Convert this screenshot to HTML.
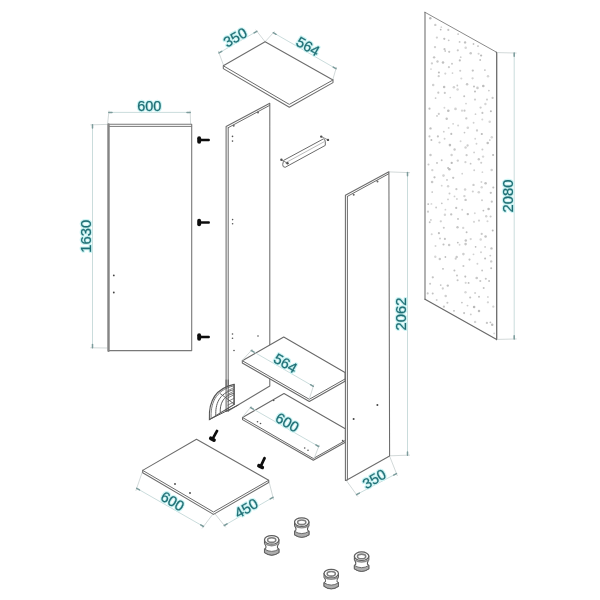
<!DOCTYPE html>
<html><head><meta charset="utf-8"><style>
html,body{margin:0;padding:0;background:#fff;}
svg{display:block;font-family:"Liberation Sans",sans-serif;}
</style></head><body>
<svg width="600" height="600" viewBox="0 0 600 600">
<defs><filter id="bl" x="-5%" y="-5%" width="110%" height="110%"><feGaussianBlur stdDeviation="0.6"/></filter><filter id="gb" x="0" y="0" width="600" height="600" filterUnits="userSpaceOnUse"><feGaussianBlur stdDeviation="0.35"/></filter><filter id="tb" x="-20%" y="-20%" width="140%" height="140%"><feGaussianBlur stdDeviation="0.3"/></filter></defs>
<rect width="600" height="600" fill="#fff"/>
<g filter="url(#gb)">
<polygon points="425.00,12.30 496.70,52.30 496.70,339.60 425.00,299.20" fill="#ffffff" stroke="none" stroke-width="0" stroke-linejoin="round" />
<g filter="url(#bl)">
<circle cx="430.3" cy="18.2" r="1.22" fill="rgb(185,185,185)"/>
<circle cx="435.3" cy="24.9" r="1.19" fill="rgb(203,203,203)"/>
<circle cx="441.3" cy="27.2" r="0.86" fill="rgb(215,215,215)"/>
<circle cx="440.7" cy="29.6" r="0.88" fill="rgb(185,185,185)"/>
<circle cx="448.3" cy="29.9" r="1.08" fill="rgb(199,199,199)"/>
<circle cx="458.1" cy="34.1" r="0.90" fill="rgb(197,197,197)"/>
<circle cx="436.9" cy="37.6" r="1.12" fill="rgb(209,209,209)"/>
<circle cx="444.3" cy="38.8" r="1.11" fill="rgb(191,191,191)"/>
<circle cx="448.7" cy="40.3" r="0.91" fill="rgb(199,199,199)"/>
<circle cx="459.6" cy="41.9" r="0.93" fill="rgb(197,197,197)"/>
<circle cx="465.1" cy="42.4" r="1.18" fill="rgb(192,192,192)"/>
<circle cx="435.0" cy="47.1" r="1.17" fill="rgb(208,208,208)"/>
<circle cx="444.5" cy="49.2" r="1.08" fill="rgb(194,194,194)"/>
<circle cx="457.8" cy="50.3" r="1.10" fill="rgb(200,200,200)"/>
<circle cx="465.7" cy="47.8" r="1.26" fill="rgb(214,214,214)"/>
<circle cx="473.5" cy="44.0" r="0.88" fill="rgb(192,192,192)"/>
<circle cx="478.0" cy="46.1" r="0.89" fill="rgb(189,189,189)"/>
<circle cx="434.1" cy="57.3" r="1.17" fill="rgb(196,196,196)"/>
<circle cx="445.2" cy="51.0" r="0.88" fill="rgb(200,200,200)"/>
<circle cx="449.2" cy="51.8" r="1.10" fill="rgb(199,199,199)"/>
<circle cx="460.7" cy="57.2" r="0.91" fill="rgb(207,207,207)"/>
<circle cx="470.7" cy="53.3" r="1.26" fill="rgb(200,200,200)"/>
<circle cx="478.6" cy="53.8" r="1.07" fill="rgb(212,212,212)"/>
<circle cx="481.1" cy="55.5" r="1.12" fill="rgb(185,185,185)"/>
<circle cx="431.9" cy="63.4" r="1.16" fill="rgb(208,208,208)"/>
<circle cx="437.5" cy="61.5" r="1.19" fill="rgb(201,201,201)"/>
<circle cx="443.0" cy="62.5" r="1.28" fill="rgb(192,192,192)"/>
<circle cx="452.0" cy="63.7" r="0.97" fill="rgb(200,200,200)"/>
<circle cx="459.8" cy="60.4" r="1.08" fill="rgb(191,191,191)"/>
<circle cx="480.2" cy="60.0" r="0.94" fill="rgb(193,193,193)"/>
<circle cx="431.0" cy="69.1" r="0.87" fill="rgb(212,212,212)"/>
<circle cx="438.9" cy="72.5" r="1.05" fill="rgb(188,188,188)"/>
<circle cx="448.9" cy="67.2" r="1.08" fill="rgb(205,205,205)"/>
<circle cx="460.2" cy="70.7" r="1.05" fill="rgb(204,204,204)"/>
<circle cx="472.8" cy="70.6" r="1.14" fill="rgb(194,194,194)"/>
<circle cx="484.9" cy="70.1" r="0.86" fill="rgb(191,191,191)"/>
<circle cx="438.7" cy="76.2" r="1.14" fill="rgb(205,205,205)"/>
<circle cx="445.3" cy="73.6" r="1.06" fill="rgb(211,211,211)"/>
<circle cx="452.5" cy="73.1" r="0.87" fill="rgb(207,207,207)"/>
<circle cx="461.3" cy="78.5" r="1.08" fill="rgb(215,215,215)"/>
<circle cx="472.6" cy="78.3" r="1.16" fill="rgb(210,210,210)"/>
<circle cx="488.0" cy="76.2" r="1.26" fill="rgb(213,213,213)"/>
<circle cx="433.2" cy="85.0" r="1.24" fill="rgb(208,208,208)"/>
<circle cx="444.1" cy="86.9" r="1.25" fill="rgb(192,192,192)"/>
<circle cx="453.9" cy="87.3" r="1.27" fill="rgb(210,210,210)"/>
<circle cx="457.3" cy="85.5" r="0.89" fill="rgb(201,201,201)"/>
<circle cx="467.1" cy="84.3" r="1.26" fill="rgb(200,200,200)"/>
<circle cx="474.0" cy="86.5" r="0.93" fill="rgb(186,186,186)"/>
<circle cx="483.3" cy="86.0" r="1.30" fill="rgb(189,189,189)"/>
<circle cx="438.3" cy="92.7" r="1.09" fill="rgb(199,199,199)"/>
<circle cx="444.8" cy="92.9" r="1.08" fill="rgb(201,201,201)"/>
<circle cx="457.6" cy="89.6" r="1.23" fill="rgb(215,215,215)"/>
<circle cx="475.0" cy="91.5" r="1.03" fill="rgb(191,191,191)"/>
<circle cx="477.5" cy="87.9" r="1.29" fill="rgb(202,202,202)"/>
<circle cx="488.9" cy="90.6" r="0.90" fill="rgb(203,203,203)"/>
<circle cx="435.6" cy="98.1" r="0.91" fill="rgb(200,200,200)"/>
<circle cx="450.3" cy="97.5" r="0.86" fill="rgb(204,204,204)"/>
<circle cx="464.2" cy="96.3" r="0.99" fill="rgb(194,194,194)"/>
<circle cx="475.0" cy="99.6" r="1.11" fill="rgb(208,208,208)"/>
<circle cx="487.0" cy="99.6" r="1.09" fill="rgb(207,207,207)"/>
<circle cx="492.6" cy="97.9" r="1.13" fill="rgb(201,201,201)"/>
<circle cx="429.5" cy="108.7" r="1.09" fill="rgb(191,191,191)"/>
<circle cx="444.4" cy="107.8" r="0.93" fill="rgb(213,213,213)"/>
<circle cx="455.5" cy="108.9" r="1.30" fill="rgb(209,209,209)"/>
<circle cx="466.0" cy="103.6" r="0.89" fill="rgb(208,208,208)"/>
<circle cx="480.6" cy="107.6" r="1.16" fill="rgb(205,205,205)"/>
<circle cx="485.4" cy="104.0" r="1.22" fill="rgb(214,214,214)"/>
<circle cx="437.0" cy="115.9" r="0.90" fill="rgb(200,200,200)"/>
<circle cx="438.8" cy="113.9" r="1.07" fill="rgb(203,203,203)"/>
<circle cx="448.3" cy="110.8" r="1.30" fill="rgb(190,190,190)"/>
<circle cx="462.0" cy="110.7" r="1.16" fill="rgb(215,215,215)"/>
<circle cx="464.5" cy="110.7" r="1.08" fill="rgb(198,198,198)"/>
<circle cx="475.5" cy="114.2" r="0.87" fill="rgb(207,207,207)"/>
<circle cx="482.4" cy="112.9" r="1.03" fill="rgb(196,196,196)"/>
<circle cx="490.9" cy="111.2" r="1.00" fill="rgb(185,185,185)"/>
<circle cx="446.7" cy="118.8" r="1.21" fill="rgb(195,195,195)"/>
<circle cx="453.1" cy="123.8" r="0.92" fill="rgb(209,209,209)"/>
<circle cx="466.3" cy="118.4" r="1.16" fill="rgb(202,202,202)"/>
<circle cx="473.6" cy="122.8" r="0.93" fill="rgb(208,208,208)"/>
<circle cx="482.3" cy="119.5" r="1.01" fill="rgb(213,213,213)"/>
<circle cx="489.7" cy="121.8" r="1.28" fill="rgb(215,215,215)"/>
<circle cx="430.5" cy="128.4" r="1.17" fill="rgb(191,191,191)"/>
<circle cx="443.8" cy="131.7" r="0.90" fill="rgb(204,204,204)"/>
<circle cx="448.7" cy="127.9" r="0.94" fill="rgb(209,209,209)"/>
<circle cx="458.1" cy="125.5" r="1.00" fill="rgb(213,213,213)"/>
<circle cx="467.8" cy="127.7" r="1.30" fill="rgb(212,212,212)"/>
<circle cx="477.0" cy="130.5" r="1.15" fill="rgb(204,204,204)"/>
<circle cx="429.5" cy="136.4" r="1.04" fill="rgb(200,200,200)"/>
<circle cx="437.9" cy="136.4" r="1.07" fill="rgb(194,194,194)"/>
<circle cx="444.6" cy="138.7" r="0.98" fill="rgb(208,208,208)"/>
<circle cx="451.3" cy="133.9" r="1.03" fill="rgb(190,190,190)"/>
<circle cx="464.5" cy="132.6" r="0.87" fill="rgb(197,197,197)"/>
<circle cx="475.2" cy="138.8" r="0.95" fill="rgb(213,213,213)"/>
<circle cx="481.8" cy="134.0" r="1.09" fill="rgb(186,186,186)"/>
<circle cx="491.8" cy="137.3" r="1.22" fill="rgb(215,215,215)"/>
<circle cx="431.4" cy="140.0" r="1.01" fill="rgb(188,188,188)"/>
<circle cx="439.5" cy="142.5" r="1.11" fill="rgb(205,205,205)"/>
<circle cx="449.9" cy="145.1" r="1.28" fill="rgb(189,189,189)"/>
<circle cx="460.6" cy="141.3" r="0.99" fill="rgb(213,213,213)"/>
<circle cx="467.6" cy="145.5" r="1.16" fill="rgb(204,204,204)"/>
<circle cx="476.5" cy="143.8" r="0.96" fill="rgb(209,209,209)"/>
<circle cx="487.7" cy="143.1" r="1.25" fill="rgb(191,191,191)"/>
<circle cx="489.8" cy="140.0" r="0.86" fill="rgb(198,198,198)"/>
<circle cx="454.6" cy="149.5" r="1.19" fill="rgb(200,200,200)"/>
<circle cx="465.6" cy="147.5" r="1.22" fill="rgb(210,210,210)"/>
<circle cx="474.1" cy="152.4" r="0.97" fill="rgb(208,208,208)"/>
<circle cx="482.4" cy="149.6" r="1.00" fill="rgb(204,204,204)"/>
<circle cx="430.5" cy="155.0" r="1.22" fill="rgb(200,200,200)"/>
<circle cx="441.7" cy="160.2" r="0.95" fill="rgb(194,194,194)"/>
<circle cx="451.6" cy="155.0" r="1.19" fill="rgb(208,208,208)"/>
<circle cx="457.8" cy="160.6" r="1.18" fill="rgb(206,206,206)"/>
<circle cx="466.6" cy="155.2" r="1.12" fill="rgb(203,203,203)"/>
<circle cx="478.8" cy="159.2" r="1.21" fill="rgb(201,201,201)"/>
<circle cx="483.1" cy="156.6" r="1.18" fill="rgb(214,214,214)"/>
<circle cx="493.1" cy="155.0" r="1.01" fill="rgb(185,185,185)"/>
<circle cx="428.5" cy="164.5" r="1.02" fill="rgb(203,203,203)"/>
<circle cx="437.0" cy="162.9" r="0.93" fill="rgb(190,190,190)"/>
<circle cx="448.1" cy="168.0" r="0.95" fill="rgb(185,185,185)"/>
<circle cx="451.7" cy="162.9" r="1.14" fill="rgb(185,185,185)"/>
<circle cx="465.4" cy="162.2" r="1.10" fill="rgb(210,210,210)"/>
<circle cx="470.6" cy="163.7" r="0.89" fill="rgb(195,195,195)"/>
<circle cx="481.2" cy="162.8" r="1.04" fill="rgb(205,205,205)"/>
<circle cx="432.3" cy="170.1" r="1.17" fill="rgb(210,210,210)"/>
<circle cx="443.5" cy="175.6" r="1.29" fill="rgb(211,211,211)"/>
<circle cx="449.4" cy="169.2" r="1.25" fill="rgb(187,187,187)"/>
<circle cx="462.2" cy="173.7" r="0.85" fill="rgb(207,207,207)"/>
<circle cx="474.2" cy="170.3" r="0.93" fill="rgb(206,206,206)"/>
<circle cx="482.4" cy="172.2" r="0.88" fill="rgb(213,213,213)"/>
<circle cx="491.7" cy="170.0" r="1.26" fill="rgb(209,209,209)"/>
<circle cx="432.1" cy="181.9" r="1.26" fill="rgb(200,200,200)"/>
<circle cx="434.5" cy="177.3" r="1.11" fill="rgb(191,191,191)"/>
<circle cx="447.0" cy="179.9" r="0.93" fill="rgb(199,199,199)"/>
<circle cx="453.2" cy="177.8" r="1.13" fill="rgb(194,194,194)"/>
<circle cx="481.4" cy="182.0" r="0.95" fill="rgb(212,212,212)"/>
<circle cx="485.6" cy="183.2" r="1.29" fill="rgb(197,197,197)"/>
<circle cx="441.7" cy="185.7" r="0.92" fill="rgb(212,212,212)"/>
<circle cx="448.1" cy="186.2" r="1.21" fill="rgb(212,212,212)"/>
<circle cx="456.4" cy="189.2" r="1.09" fill="rgb(201,201,201)"/>
<circle cx="465.1" cy="189.4" r="1.26" fill="rgb(211,211,211)"/>
<circle cx="473.5" cy="184.9" r="1.17" fill="rgb(204,204,204)"/>
<circle cx="481.7" cy="187.3" r="1.19" fill="rgb(215,215,215)"/>
<circle cx="493.3" cy="187.5" r="1.04" fill="rgb(191,191,191)"/>
<circle cx="432.2" cy="192.0" r="0.87" fill="rgb(191,191,191)"/>
<circle cx="449.5" cy="193.6" r="0.99" fill="rgb(202,202,202)"/>
<circle cx="454.5" cy="196.4" r="0.91" fill="rgb(206,206,206)"/>
<circle cx="464.4" cy="196.1" r="1.22" fill="rgb(210,210,210)"/>
<circle cx="472.8" cy="191.5" r="1.06" fill="rgb(207,207,207)"/>
<circle cx="478.8" cy="192.2" r="1.30" fill="rgb(212,212,212)"/>
<circle cx="490.8" cy="192.8" r="1.13" fill="rgb(194,194,194)"/>
<circle cx="428.2" cy="204.1" r="0.97" fill="rgb(187,187,187)"/>
<circle cx="431.4" cy="203.9" r="0.97" fill="rgb(215,215,215)"/>
<circle cx="441.8" cy="203.3" r="0.89" fill="rgb(197,197,197)"/>
<circle cx="448.0" cy="199.4" r="0.93" fill="rgb(207,207,207)"/>
<circle cx="456.9" cy="199.0" r="0.89" fill="rgb(207,207,207)"/>
<circle cx="465.6" cy="199.9" r="1.20" fill="rgb(198,198,198)"/>
<circle cx="482.0" cy="200.2" r="1.02" fill="rgb(207,207,207)"/>
<circle cx="491.8" cy="201.7" r="1.13" fill="rgb(197,197,197)"/>
<circle cx="428.0" cy="211.7" r="1.09" fill="rgb(204,204,204)"/>
<circle cx="436.1" cy="207.5" r="0.90" fill="rgb(199,199,199)"/>
<circle cx="445.4" cy="209.7" r="0.90" fill="rgb(211,211,211)"/>
<circle cx="456.2" cy="207.9" r="1.10" fill="rgb(194,194,194)"/>
<circle cx="462.2" cy="209.7" r="0.94" fill="rgb(207,207,207)"/>
<circle cx="474.8" cy="213.2" r="0.94" fill="rgb(214,214,214)"/>
<circle cx="483.4" cy="210.6" r="0.91" fill="rgb(187,187,187)"/>
<circle cx="488.6" cy="209.1" r="1.27" fill="rgb(187,187,187)"/>
<circle cx="430.9" cy="219.9" r="0.88" fill="rgb(202,202,202)"/>
<circle cx="444.9" cy="214.7" r="1.22" fill="rgb(213,213,213)"/>
<circle cx="451.2" cy="214.4" r="1.16" fill="rgb(194,194,194)"/>
<circle cx="458.0" cy="218.9" r="0.93" fill="rgb(190,190,190)"/>
<circle cx="467.8" cy="214.1" r="1.20" fill="rgb(190,190,190)"/>
<circle cx="479.0" cy="220.6" r="1.15" fill="rgb(209,209,209)"/>
<circle cx="486.2" cy="216.2" r="1.19" fill="rgb(210,210,210)"/>
<circle cx="490.6" cy="216.4" r="1.02" fill="rgb(201,201,201)"/>
<circle cx="429.7" cy="222.2" r="0.96" fill="rgb(193,193,193)"/>
<circle cx="440.8" cy="221.3" r="1.15" fill="rgb(208,208,208)"/>
<circle cx="443.8" cy="227.7" r="1.01" fill="rgb(200,200,200)"/>
<circle cx="457.5" cy="227.3" r="1.19" fill="rgb(198,198,198)"/>
<circle cx="463.2" cy="227.9" r="1.16" fill="rgb(212,212,212)"/>
<circle cx="474.0" cy="221.8" r="1.09" fill="rgb(215,215,215)"/>
<circle cx="487.5" cy="221.3" r="1.04" fill="rgb(213,213,213)"/>
<circle cx="431.7" cy="234.3" r="1.03" fill="rgb(212,212,212)"/>
<circle cx="438.9" cy="233.2" r="1.10" fill="rgb(192,192,192)"/>
<circle cx="466.6" cy="232.2" r="0.95" fill="rgb(190,190,190)"/>
<circle cx="481.7" cy="233.9" r="1.11" fill="rgb(202,202,202)"/>
<circle cx="492.7" cy="230.4" r="1.00" fill="rgb(185,185,185)"/>
<circle cx="440.0" cy="238.5" r="0.95" fill="rgb(203,203,203)"/>
<circle cx="444.9" cy="238.9" r="1.07" fill="rgb(195,195,195)"/>
<circle cx="457.8" cy="242.6" r="0.94" fill="rgb(191,191,191)"/>
<circle cx="465.8" cy="240.6" r="1.23" fill="rgb(195,195,195)"/>
<circle cx="470.7" cy="239.1" r="1.16" fill="rgb(213,213,213)"/>
<circle cx="480.7" cy="239.5" r="1.25" fill="rgb(215,215,215)"/>
<circle cx="485.6" cy="236.5" r="1.28" fill="rgb(195,195,195)"/>
<circle cx="435.5" cy="246.0" r="0.99" fill="rgb(212,212,212)"/>
<circle cx="443.5" cy="244.5" r="1.08" fill="rgb(192,192,192)"/>
<circle cx="449.1" cy="245.1" r="1.25" fill="rgb(201,201,201)"/>
<circle cx="459.6" cy="244.7" r="0.93" fill="rgb(214,214,214)"/>
<circle cx="465.6" cy="244.1" r="1.29" fill="rgb(199,199,199)"/>
<circle cx="475.6" cy="246.8" r="0.85" fill="rgb(186,186,186)"/>
<circle cx="485.1" cy="246.9" r="0.89" fill="rgb(203,203,203)"/>
<circle cx="491.5" cy="248.4" r="1.18" fill="rgb(193,193,193)"/>
<circle cx="435.3" cy="256.8" r="1.19" fill="rgb(214,214,214)"/>
<circle cx="445.4" cy="257.0" r="0.88" fill="rgb(190,190,190)"/>
<circle cx="456.7" cy="256.9" r="1.20" fill="rgb(200,200,200)"/>
<circle cx="463.4" cy="254.1" r="1.29" fill="rgb(206,206,206)"/>
<circle cx="473.5" cy="254.3" r="0.92" fill="rgb(209,209,209)"/>
<circle cx="481.0" cy="252.2" r="0.97" fill="rgb(209,209,209)"/>
<circle cx="490.3" cy="255.6" r="0.95" fill="rgb(202,202,202)"/>
<circle cx="439.8" cy="259.0" r="1.21" fill="rgb(200,200,200)"/>
<circle cx="455.7" cy="258.7" r="1.09" fill="rgb(205,205,205)"/>
<circle cx="469.5" cy="259.6" r="1.04" fill="rgb(194,194,194)"/>
<circle cx="477.4" cy="263.7" r="0.97" fill="rgb(209,209,209)"/>
<circle cx="485.1" cy="258.5" r="1.02" fill="rgb(190,190,190)"/>
<circle cx="491.2" cy="261.4" r="1.20" fill="rgb(204,204,204)"/>
<circle cx="443.0" cy="268.8" r="0.92" fill="rgb(189,189,189)"/>
<circle cx="454.4" cy="270.5" r="1.03" fill="rgb(192,192,192)"/>
<circle cx="463.4" cy="266.0" r="1.04" fill="rgb(200,200,200)"/>
<circle cx="482.1" cy="270.5" r="0.90" fill="rgb(193,193,193)"/>
<circle cx="491.2" cy="268.3" r="1.01" fill="rgb(192,192,192)"/>
<circle cx="432.8" cy="277.3" r="1.11" fill="rgb(195,195,195)"/>
<circle cx="457.0" cy="275.4" r="1.01" fill="rgb(198,198,198)"/>
<circle cx="465.3" cy="276.6" r="1.03" fill="rgb(191,191,191)"/>
<circle cx="476.7" cy="278.0" r="1.30" fill="rgb(200,200,200)"/>
<circle cx="485.8" cy="278.8" r="1.04" fill="rgb(197,197,197)"/>
<circle cx="430.1" cy="283.7" r="1.03" fill="rgb(201,201,201)"/>
<circle cx="440.7" cy="285.1" r="0.88" fill="rgb(196,196,196)"/>
<circle cx="447.8" cy="285.6" r="1.18" fill="rgb(192,192,192)"/>
<circle cx="457.6" cy="280.3" r="1.05" fill="rgb(197,197,197)"/>
<circle cx="465.7" cy="282.8" r="1.08" fill="rgb(213,213,213)"/>
<circle cx="468.6" cy="282.9" r="0.93" fill="rgb(186,186,186)"/>
<circle cx="480.3" cy="281.0" r="1.04" fill="rgb(198,198,198)"/>
<circle cx="489.1" cy="281.1" r="0.99" fill="rgb(193,193,193)"/>
<circle cx="427.7" cy="293.4" r="1.03" fill="rgb(199,199,199)"/>
<circle cx="432.7" cy="293.6" r="1.02" fill="rgb(194,194,194)"/>
<circle cx="442.8" cy="288.5" r="1.13" fill="rgb(208,208,208)"/>
<circle cx="465.5" cy="292.3" r="1.20" fill="rgb(215,215,215)"/>
<circle cx="475.1" cy="293.0" r="1.04" fill="rgb(210,210,210)"/>
<circle cx="483.7" cy="287.9" r="0.98" fill="rgb(195,195,195)"/>
<circle cx="436.7" cy="299.9" r="1.00" fill="rgb(208,208,208)"/>
<circle cx="445.7" cy="296.0" r="1.23" fill="rgb(207,207,207)"/>
<circle cx="470.2" cy="297.5" r="1.06" fill="rgb(194,194,194)"/>
<circle cx="479.0" cy="296.7" r="1.00" fill="rgb(196,196,196)"/>
<circle cx="487.9" cy="297.0" r="0.93" fill="rgb(213,213,213)"/>
<circle cx="443.9" cy="306.7" r="1.13" fill="rgb(198,198,198)"/>
<circle cx="447.4" cy="302.8" r="1.02" fill="rgb(199,199,199)"/>
<circle cx="461.9" cy="302.6" r="0.97" fill="rgb(201,201,201)"/>
<circle cx="467.5" cy="305.6" r="0.94" fill="rgb(204,204,204)"/>
<circle cx="474.1" cy="307.1" r="1.27" fill="rgb(185,185,185)"/>
<circle cx="487.9" cy="302.3" r="1.14" fill="rgb(212,212,212)"/>
<circle cx="493.3" cy="306.7" r="1.16" fill="rgb(211,211,211)"/>
<circle cx="454.0" cy="310.8" r="0.92" fill="rgb(190,190,190)"/>
<circle cx="464.1" cy="313.1" r="1.04" fill="rgb(196,196,196)"/>
<circle cx="470.8" cy="314.4" r="0.96" fill="rgb(205,205,205)"/>
<circle cx="479.0" cy="310.9" r="1.24" fill="rgb(189,189,189)"/>
<circle cx="475.1" cy="321.9" r="1.19" fill="rgb(212,212,212)"/>
<circle cx="486.9" cy="322.9" r="1.14" fill="rgb(198,198,198)"/>
<circle cx="490.4" cy="322.3" r="0.91" fill="rgb(190,190,190)"/>
<circle cx="492.2" cy="324.8" r="1.24" fill="rgb(188,188,188)"/>
<circle cx="494.2" cy="333.4" r="0.92" fill="rgb(212,212,212)"/>
</g>
<line x1="425.00" y1="12.30" x2="496.70" y2="52.30" stroke="#8a8a8a" stroke-width="1.0" stroke-linecap="round" />
<line x1="425.00" y1="12.30" x2="425.00" y2="299.20" stroke="#7e7e7e" stroke-width="1.2" stroke-linecap="round" />
<line x1="425.00" y1="299.20" x2="496.70" y2="339.60" stroke="#6a6a6a" stroke-width="1.2" stroke-linecap="round" />
<line x1="496.70" y1="52.30" x2="496.70" y2="339.60" stroke="#6a6a6a" stroke-width="1.3" stroke-linecap="round" />
<line x1="497.50" y1="52.60" x2="516.20" y2="53.05" stroke="#cdd5d5" stroke-width="0.9" stroke-linecap="round" />
<line x1="497.50" y1="339.40" x2="516.20" y2="338.95" stroke="#cdd5d5" stroke-width="0.9" stroke-linecap="round" />
<line x1="514.20" y1="53.00" x2="514.20" y2="339.00" stroke="#c4d8d8" stroke-width="0.9" stroke-linecap="round" />
<line x1="514.20" y1="53.00" x2="514.20" y2="56.20" stroke="#7c9c9c" stroke-width="1.5" stroke-linecap="round" />
<line x1="514.20" y1="339.00" x2="514.20" y2="335.80" stroke="#7c9c9c" stroke-width="1.5" stroke-linecap="round" />
<g filter="url(#tb)"><text x="508.00" y="196.00" transform="rotate(-90 508.00 196.00)" font-size="14.8" fill="#c2f1f1" stroke="#cdf4f4" stroke-width="2.6" stroke-linejoin="round" text-anchor="middle" dominant-baseline="central">2080</text>
<text x="508.00" y="196.00" transform="rotate(-90 508.00 196.00)" font-size="14.8" fill="#1e6e74" stroke="#1e6e74" stroke-width="0.25" text-anchor="middle" dominant-baseline="central">2080</text></g>
<line x1="107.00" y1="124.40" x2="90.76" y2="124.85" stroke="#cdd5d5" stroke-width="0.9" stroke-linecap="round" />
<line x1="107.00" y1="348.00" x2="90.76" y2="347.78" stroke="#cdd5d5" stroke-width="0.9" stroke-linecap="round" />
<line x1="92.50" y1="124.80" x2="92.50" y2="347.80" stroke="#c4d8d8" stroke-width="0.9" stroke-linecap="round" />
<line x1="92.50" y1="124.80" x2="92.50" y2="128.00" stroke="#7c9c9c" stroke-width="1.5" stroke-linecap="round" />
<line x1="92.50" y1="347.80" x2="92.50" y2="344.60" stroke="#7c9c9c" stroke-width="1.5" stroke-linecap="round" />
<line x1="107.60" y1="124.00" x2="108.94" y2="111.01" stroke="#cdd5d5" stroke-width="0.9" stroke-linecap="round" />
<line x1="190.60" y1="124.00" x2="190.15" y2="111.01" stroke="#cdd5d5" stroke-width="0.9" stroke-linecap="round" />
<line x1="108.80" y1="112.40" x2="190.20" y2="112.40" stroke="#c4d8d8" stroke-width="0.9" stroke-linecap="round" />
<line x1="108.80" y1="112.40" x2="112.00" y2="112.40" stroke="#7c9c9c" stroke-width="1.5" stroke-linecap="round" />
<line x1="190.20" y1="112.40" x2="187.00" y2="112.40" stroke="#7c9c9c" stroke-width="1.5" stroke-linecap="round" />
<g filter="url(#tb)"><text x="149.25" y="105.60" transform="rotate(0 149.25 105.60)" font-size="14.5" fill="#c2f1f1" stroke="#cdf4f4" stroke-width="2.6" stroke-linejoin="round" text-anchor="middle" dominant-baseline="central">600</text>
<text x="149.25" y="105.60" transform="rotate(0 149.25 105.60)" font-size="14.5" fill="#1e6e74" stroke="#1e6e74" stroke-width="0.25" text-anchor="middle" dominant-baseline="central">600</text></g>
<g filter="url(#tb)"><text x="86.00" y="236.20" transform="rotate(-90 86.00 236.20)" font-size="14.8" fill="#c2f1f1" stroke="#cdf4f4" stroke-width="2.6" stroke-linejoin="round" text-anchor="middle" dominant-baseline="central">1630</text>
<text x="86.00" y="236.20" transform="rotate(-90 86.00 236.20)" font-size="14.8" fill="#1e6e74" stroke="#1e6e74" stroke-width="0.25" text-anchor="middle" dominant-baseline="central">1630</text></g>
<polygon points="108.50,124.30 191.70,124.30 191.70,350.60 108.50,350.60" fill="#fff" stroke="#787878" stroke-width="1.1" stroke-linejoin="round" />
<line x1="108.50" y1="124.50" x2="108.50" y2="350.80" stroke="#858585" stroke-width="2.4" stroke-linecap="round" />
<line x1="109.50" y1="126.40" x2="191.70" y2="126.40" stroke="#7a7a7a" stroke-width="1.0" stroke-linecap="round" />
<circle cx="113.80" cy="275.40" r="0.9" fill="#444"/>
<circle cx="113.80" cy="292.50" r="0.9" fill="#444"/>
<rect x="197.2" y="136.3" width="3.9" height="7.4" rx="1.9" fill="#101010"/>
<rect x="199" y="138.65" width="10.9" height="2.7" rx="1.0" fill="#101010"/>
<rect x="197.2" y="218.8" width="3.9" height="7.4" rx="1.9" fill="#101010"/>
<rect x="199" y="221.15" width="10.9" height="2.7" rx="1.0" fill="#101010"/>
<rect x="197.2" y="333.3" width="3.9" height="7.4" rx="1.9" fill="#101010"/>
<rect x="199" y="335.65" width="10.9" height="2.7" rx="1.0" fill="#101010"/>
<line x1="223.70" y1="65.80" x2="218.44" y2="51.35" stroke="#cdd5d5" stroke-width="0.9" stroke-linecap="round" />
<line x1="265.10" y1="41.80" x2="255.92" y2="30.04" stroke="#cdd5d5" stroke-width="0.9" stroke-linecap="round" />
<line x1="219.00" y1="52.90" x2="256.90" y2="31.30" stroke="#c4d8d8" stroke-width="0.9" stroke-linecap="round" />
<line x1="219.00" y1="52.90" x2="221.78" y2="51.32" stroke="#7c9c9c" stroke-width="1.5" stroke-linecap="round" />
<line x1="256.90" y1="31.30" x2="254.12" y2="32.88" stroke="#7c9c9c" stroke-width="1.5" stroke-linecap="round" />
<line x1="265.10" y1="41.80" x2="274.28" y2="31.61" stroke="#cdd5d5" stroke-width="0.9" stroke-linecap="round" />
<line x1="332.70" y1="80.00" x2="336.40" y2="67.34" stroke="#cdd5d5" stroke-width="0.9" stroke-linecap="round" />
<line x1="273.30" y1="32.70" x2="336.00" y2="68.70" stroke="#c4d8d8" stroke-width="0.9" stroke-linecap="round" />
<line x1="273.30" y1="32.70" x2="276.08" y2="34.29" stroke="#7c9c9c" stroke-width="1.5" stroke-linecap="round" />
<line x1="336.00" y1="68.70" x2="333.22" y2="67.11" stroke="#7c9c9c" stroke-width="1.5" stroke-linecap="round" />
<g filter="url(#tb)"><text x="235.20" y="37.40" transform="rotate(-29 235.20 37.40)" font-size="14.5" fill="#c2f1f1" stroke="#cdf4f4" stroke-width="2.6" stroke-linejoin="round" text-anchor="middle" dominant-baseline="central">350</text>
<text x="235.20" y="37.40" transform="rotate(-29 235.20 37.40)" font-size="14.5" fill="#1e6e74" stroke="#1e6e74" stroke-width="0.25" text-anchor="middle" dominant-baseline="central">350</text></g>
<g filter="url(#tb)"><text x="308.00" y="46.30" transform="rotate(29.5 308.00 46.30)" font-size="14.5" fill="#c2f1f1" stroke="#cdf4f4" stroke-width="2.6" stroke-linejoin="round" text-anchor="middle" dominant-baseline="central">564</text>
<text x="308.00" y="46.30" transform="rotate(29.5 308.00 46.30)" font-size="14.5" fill="#1e6e74" stroke="#1e6e74" stroke-width="0.25" text-anchor="middle" dominant-baseline="central">564</text></g>
<polygon points="223.30,65.80 265.10,41.80 333.00,80.00 333.00,82.60 289.30,107.20 223.30,68.60" fill="#fff" stroke="#6c6c6c" stroke-width="1.05" stroke-linejoin="round" />
<polyline points="223.30,65.80 289.30,104.40 333.00,80.00" fill="none" stroke="#6c6c6c" stroke-width="1.0" stroke-linejoin="round" stroke-linecap="round" />
<polygon points="226.10,126.50 269.80,103.20 269.80,386.00 228.00,411.00 226.10,411.00" fill="#fff" stroke="#6c6c6c" stroke-width="1.05" stroke-linejoin="round" />
<line x1="228.20" y1="127.70" x2="228.20" y2="411.00" stroke="#6c6c6c" stroke-width="1.0" stroke-linecap="round" />
<line x1="228.20" y1="127.70" x2="269.60" y2="105.40" stroke="#6c6c6c" stroke-width="1.0" stroke-linecap="round" />
<circle cx="232.50" cy="136.40" r="0.8" fill="#555"/>
<circle cx="232.50" cy="141.10" r="0.8" fill="#555"/>
<circle cx="232.50" cy="334.00" r="0.8" fill="#555"/>
<circle cx="232.50" cy="338.30" r="0.8" fill="#555"/>
<circle cx="234.00" cy="350.50" r="0.8" fill="#555"/>
<circle cx="232.60" cy="219.60" r="0.8" fill="#555"/>
<circle cx="232.60" cy="223.80" r="0.8" fill="#555"/>
<circle cx="233.70" cy="125.80" r="1.0" fill="#666"/>
<circle cx="258.00" cy="112.40" r="1.0" fill="#666"/>
<circle cx="258.00" cy="336.00" r="0.8" fill="#555"/>
<path d="M283.6,160.4 L323.4,138.9 Q325.4,139.6 325.3,141.8 L325.3,145.4 L285.2,167.3 Q282.6,167.4 282.7,164.6 Z" fill="#fff" stroke="#6a6a6a" stroke-width="1.0"/>
<line x1="285.40" y1="162.90" x2="324.20" y2="141.70" stroke="#a8a8a8" stroke-width="0.8" stroke-linecap="round" />
<line x1="281.40" y1="159.80" x2="287.50" y2="163.20" stroke="#8a8a8a" stroke-width="1.0" stroke-linecap="round" />
<circle cx="281.40" cy="159.80" r="1.2" fill="#505050"/>
<circle cx="287.50" cy="163.20" r="1.2" fill="#505050"/>
<line x1="321.20" y1="136.60" x2="328.00" y2="139.90" stroke="#8a8a8a" stroke-width="1.0" stroke-linecap="round" />
<circle cx="321.20" cy="136.60" r="1.2" fill="#505050"/>
<circle cx="328.00" cy="139.90" r="1.2" fill="#505050"/>
<line x1="389.50" y1="171.90" x2="409.66" y2="172.68" stroke="#cdd5d5" stroke-width="0.9" stroke-linecap="round" />
<line x1="389.80" y1="455.80" x2="409.62" y2="455.13" stroke="#cdd5d5" stroke-width="0.9" stroke-linecap="round" />
<line x1="407.50" y1="172.60" x2="407.50" y2="455.20" stroke="#c4d8d8" stroke-width="0.9" stroke-linecap="round" />
<line x1="407.50" y1="172.60" x2="407.50" y2="175.80" stroke="#7c9c9c" stroke-width="1.5" stroke-linecap="round" />
<line x1="407.50" y1="455.20" x2="407.50" y2="452.00" stroke="#7c9c9c" stroke-width="1.5" stroke-linecap="round" />
<g filter="url(#tb)"><text x="401.00" y="314.00" transform="rotate(-90 401.00 314.00)" font-size="14.8" fill="#c2f1f1" stroke="#cdf4f4" stroke-width="2.6" stroke-linejoin="round" text-anchor="middle" dominant-baseline="central">2062</text>
<text x="401.00" y="314.00" transform="rotate(-90 401.00 314.00)" font-size="14.8" fill="#1e6e74" stroke="#1e6e74" stroke-width="0.25" text-anchor="middle" dominant-baseline="central">2062</text></g>
<line x1="346.40" y1="480.60" x2="357.71" y2="496.28" stroke="#cdd5d5" stroke-width="0.9" stroke-linecap="round" />
<line x1="389.80" y1="456.60" x2="397.30" y2="475.64" stroke="#cdd5d5" stroke-width="0.9" stroke-linecap="round" />
<line x1="356.50" y1="494.60" x2="396.50" y2="473.60" stroke="#c4d8d8" stroke-width="0.9" stroke-linecap="round" />
<line x1="356.50" y1="494.60" x2="359.33" y2="493.11" stroke="#7c9c9c" stroke-width="1.5" stroke-linecap="round" />
<line x1="396.50" y1="473.60" x2="393.67" y2="475.09" stroke="#7c9c9c" stroke-width="1.5" stroke-linecap="round" />
<g filter="url(#tb)"><text x="374.20" y="479.00" transform="rotate(-30 374.20 479.00)" font-size="14.5" fill="#c2f1f1" stroke="#cdf4f4" stroke-width="2.6" stroke-linejoin="round" text-anchor="middle" dominant-baseline="central">350</text>
<text x="374.20" y="479.00" transform="rotate(-30 374.20 479.00)" font-size="14.5" fill="#1e6e74" stroke="#1e6e74" stroke-width="0.25" text-anchor="middle" dominant-baseline="central">350</text></g>
<polygon points="345.40,195.30 388.90,171.70 389.60,456.00 346.00,480.50 345.40,480.50" fill="#fff" stroke="#6c6c6c" stroke-width="1.05" stroke-linejoin="round" />
<line x1="347.40" y1="196.40" x2="347.40" y2="480.00" stroke="#6c6c6c" stroke-width="1.0" stroke-linecap="round" />
<line x1="347.40" y1="196.40" x2="388.70" y2="173.80" stroke="#6c6c6c" stroke-width="1.0" stroke-linecap="round" />
<circle cx="353.70" cy="194.80" r="1.0" fill="#666"/>
<circle cx="377.50" cy="181.40" r="1.0" fill="#666"/>
<circle cx="377.40" cy="405.00" r="1.0" fill="#444"/>
<circle cx="353.60" cy="419.00" r="1.0" fill="#444"/>
<polygon points="242.30,360.70 283.75,337.00 345.00,372.50 345.00,381.20 309.30,401.50 242.30,363.00" fill="#fff" stroke="#686868" stroke-width="1.05" stroke-linejoin="round" />
<polyline points="242.30,360.70 309.30,399.30 345.00,379.00" fill="none" stroke="#686868" stroke-width="1.0" stroke-linejoin="round" stroke-linecap="round" />
<line x1="242.30" y1="360.30" x2="252.38" y2="349.32" stroke="#cdd5d5" stroke-width="0.9" stroke-linecap="round" />
<line x1="309.30" y1="399.00" x2="313.78" y2="384.78" stroke="#cdd5d5" stroke-width="0.9" stroke-linecap="round" />
<line x1="251.30" y1="350.50" x2="313.30" y2="386.30" stroke="#c4d8d8" stroke-width="0.9" stroke-linecap="round" />
<line x1="251.30" y1="350.50" x2="254.07" y2="352.10" stroke="#7c9c9c" stroke-width="1.5" stroke-linecap="round" />
<line x1="313.30" y1="386.30" x2="310.53" y2="384.70" stroke="#7c9c9c" stroke-width="1.5" stroke-linecap="round" />
<g filter="url(#tb)"><text x="285.50" y="363.30" transform="rotate(30 285.50 363.30)" font-size="14.5" fill="#c2f1f1" stroke="#cdf4f4" stroke-width="2.6" stroke-linejoin="round" text-anchor="middle" dominant-baseline="central">564</text>
<text x="285.50" y="363.30" transform="rotate(30 285.50 363.30)" font-size="14.5" fill="#1e6e74" stroke="#1e6e74" stroke-width="0.25" text-anchor="middle" dominant-baseline="central">564</text></g>
<polygon points="242.50,417.50 284.00,393.50 345.30,428.70 345.30,442.20 313.30,460.30 242.50,419.60" fill="#fff" stroke="#686868" stroke-width="1.05" stroke-linejoin="round" />
<polyline points="242.50,417.50 313.30,458.50 345.30,440.50" fill="none" stroke="#686868" stroke-width="1.0" stroke-linejoin="round" stroke-linecap="round" />
<line x1="242.50" y1="417.00" x2="251.46" y2="406.36" stroke="#cdd5d5" stroke-width="0.9" stroke-linecap="round" />
<line x1="314.50" y1="457.50" x2="319.20" y2="445.18" stroke="#cdd5d5" stroke-width="0.9" stroke-linecap="round" />
<line x1="250.50" y1="407.50" x2="318.70" y2="446.50" stroke="#c4d8d8" stroke-width="0.9" stroke-linecap="round" />
<line x1="250.50" y1="407.50" x2="253.28" y2="409.09" stroke="#7c9c9c" stroke-width="1.5" stroke-linecap="round" />
<line x1="318.70" y1="446.50" x2="315.92" y2="444.91" stroke="#7c9c9c" stroke-width="1.5" stroke-linecap="round" />
<g filter="url(#tb)"><text x="287.30" y="422.50" transform="rotate(30 287.30 422.50)" font-size="14.5" fill="#c2f1f1" stroke="#cdf4f4" stroke-width="2.6" stroke-linejoin="round" text-anchor="middle" dominant-baseline="central">600</text>
<text x="287.30" y="422.50" transform="rotate(30 287.30 422.50)" font-size="14.5" fill="#1e6e74" stroke="#1e6e74" stroke-width="0.25" text-anchor="middle" dominant-baseline="central">600</text></g>
<circle cx="257.50" cy="421.80" r="0.8" fill="#555"/>
<circle cx="260.50" cy="423.50" r="0.8" fill="#555"/>
<circle cx="304.70" cy="448.00" r="0.8" fill="#555"/>
<circle cx="308.00" cy="450.30" r="0.8" fill="#555"/>
<circle cx="273.70" cy="400.50" r="0.8" fill="#555"/>
<circle cx="342.70" cy="440.70" r="0.9" fill="#555"/>
<path d="M209.40,419.60 C208.60,405.00 213.00,389.00 234.10,384.40 L234.1,404.5 Z" fill="#fff" stroke="#555" stroke-width="1.1"/>
<path d="M211.13,418.54 C210.38,404.96 214.48,390.08 234.10,385.81" fill="none" stroke="#6a6a6a" stroke-width="0.9"/>
<path d="M215.82,415.67 C215.23,404.87 218.49,393.03 234.10,389.63" fill="none" stroke="#5e5e5e" stroke-width="1.0"/>
<path d="M220.27,412.96 C219.82,404.78 222.28,395.82 234.10,393.24" fill="none" stroke="#5e5e5e" stroke-width="1.0"/>
<line x1="227.80" y1="390.70" x2="234.10" y2="387.50" stroke="#7a7a7a" stroke-width="0.9" stroke-linecap="round" />
<line x1="227.80" y1="394.30" x2="234.10" y2="391.10" stroke="#7a7a7a" stroke-width="0.9" stroke-linecap="round" />
<line x1="227.80" y1="397.90" x2="234.10" y2="394.70" stroke="#7a7a7a" stroke-width="0.9" stroke-linecap="round" />
<line x1="227.80" y1="401.50" x2="234.10" y2="398.30" stroke="#7a7a7a" stroke-width="0.9" stroke-linecap="round" />
<line x1="227.80" y1="405.10" x2="234.10" y2="401.90" stroke="#7a7a7a" stroke-width="0.9" stroke-linecap="round" />
<line x1="220.50" y1="393.80" x2="234.10" y2="404.00" stroke="#5a5a5a" stroke-width="0.9" stroke-linecap="round" />
<line x1="234.10" y1="384.40" x2="234.10" y2="404.50" stroke="#555" stroke-width="1.0" stroke-linecap="round" />
<line x1="209.40" y1="419.60" x2="238.00" y2="405.20" stroke="#555" stroke-width="1.0" stroke-linecap="round" />
<line x1="226.10" y1="380.00" x2="226.10" y2="411.50" stroke="#5c5c5c" stroke-width="1.0" stroke-linecap="round" />
<line x1="228.20" y1="380.00" x2="228.20" y2="411.00" stroke="#5c5c5c" stroke-width="1.0" stroke-linecap="round" />
<line x1="142.70" y1="470.80" x2="135.98" y2="490.40" stroke="#cdd5d5" stroke-width="0.9" stroke-linecap="round" />
<line x1="214.00" y1="512.60" x2="202.24" y2="528.17" stroke="#cdd5d5" stroke-width="0.9" stroke-linecap="round" />
<line x1="136.70" y1="488.30" x2="203.50" y2="526.50" stroke="#c4d8d8" stroke-width="0.9" stroke-linecap="round" />
<line x1="136.70" y1="488.30" x2="139.48" y2="489.89" stroke="#7c9c9c" stroke-width="1.5" stroke-linecap="round" />
<line x1="203.50" y1="526.50" x2="200.72" y2="524.91" stroke="#7c9c9c" stroke-width="1.5" stroke-linecap="round" />
<line x1="214.00" y1="512.60" x2="225.54" y2="527.05" stroke="#cdd5d5" stroke-width="0.9" stroke-linecap="round" />
<line x1="268.70" y1="480.50" x2="273.52" y2="499.32" stroke="#cdd5d5" stroke-width="0.9" stroke-linecap="round" />
<line x1="224.30" y1="525.50" x2="273.00" y2="497.30" stroke="#c4d8d8" stroke-width="0.9" stroke-linecap="round" />
<line x1="224.30" y1="525.50" x2="227.07" y2="523.90" stroke="#7c9c9c" stroke-width="1.5" stroke-linecap="round" />
<line x1="273.00" y1="497.30" x2="270.23" y2="498.90" stroke="#7c9c9c" stroke-width="1.5" stroke-linecap="round" />
<g filter="url(#tb)"><text x="172.50" y="501.30" transform="rotate(30 172.50 501.30)" font-size="14.5" fill="#c2f1f1" stroke="#cdf4f4" stroke-width="2.6" stroke-linejoin="round" text-anchor="middle" dominant-baseline="central">600</text>
<text x="172.50" y="501.30" transform="rotate(30 172.50 501.30)" font-size="14.5" fill="#1e6e74" stroke="#1e6e74" stroke-width="0.25" text-anchor="middle" dominant-baseline="central">600</text></g>
<g filter="url(#tb)"><text x="246.20" y="508.30" transform="rotate(-30 246.20 508.30)" font-size="14.5" fill="#c2f1f1" stroke="#cdf4f4" stroke-width="2.6" stroke-linejoin="round" text-anchor="middle" dominant-baseline="central">450</text>
<text x="246.20" y="508.30" transform="rotate(-30 246.20 508.30)" font-size="14.5" fill="#1e6e74" stroke="#1e6e74" stroke-width="0.25" text-anchor="middle" dominant-baseline="central">450</text></g>
<polygon points="142.70,470.40 196.50,439.30 268.70,480.30 268.70,482.50 213.50,514.40 142.70,472.80" fill="#fff" stroke="#6c6c6c" stroke-width="1.05" stroke-linejoin="round" />
<polyline points="142.70,470.40 213.50,512.00 268.70,480.30" fill="none" stroke="#6c6c6c" stroke-width="1.0" stroke-linejoin="round" stroke-linecap="round" />
<circle cx="175.00" cy="484.00" r="0.9" fill="#444"/>
<circle cx="190.00" cy="493.00" r="0.9" fill="#444"/>
<g transform="translate(212.4 439.2) rotate(29)"><rect x="-3.7" y="-1.9" width="7.4" height="3.8" rx="1.9" fill="#101010"/><rect x="-1.35" y="-10.6" width="2.7" height="10" rx="1.0" fill="#101010"/></g>
<g transform="translate(260.6 466.6) rotate(25)"><rect x="-3.7" y="-1.9" width="7.4" height="3.8" rx="1.9" fill="#101010"/><rect x="-1.35" y="-10.6" width="2.7" height="10" rx="1.0" fill="#101010"/></g>
<path d="M264.5,539.8 L264.5,543.5 Q266.3,545.8 265.9,547.8 Q265.5,548.3 264.5,549.0999999999999 L264.5,552.5 Q271.7,557.6999999999999 278.9,552.5 L278.9,549.0999999999999 Q277.9,548.3 277.5,547.8 Q277.09999999999997,545.8 278.9,543.5 L278.9,539.8 Z" fill="#fff" stroke="#585858" stroke-width="1.1"/>
<path d="M264.5,549.0999999999999 Q271.7,553.6999999999999 278.9,549.0999999999999 L278.9,552.5 Q271.7,557.6999999999999 264.5,552.5 Z" fill="#adadad" stroke="#606060" stroke-width="0.9"/>
<path d="M264.5,543.5 Q271.7,547.9 278.9,543.5" fill="none" stroke="#8c8c8c" stroke-width="1.4"/>
<ellipse cx="271.7" cy="539.9" rx="7.2" ry="4.3" fill="#fff" stroke="#5e5e5e" stroke-width="1.2"/>
<ellipse cx="271.7" cy="540.0999999999999" rx="4.1" ry="2.3" fill="#fff" stroke="#7e7e7e" stroke-width="1.6"/>
<path d="M294.55,522.0 L294.55,525.7 Q296.35,528.0 295.95,530.0 Q295.55,530.5 294.55,531.3 L294.55,534.7 Q301.75,539.9 308.95,534.7 L308.95,531.3 Q307.95,530.5 307.55,530.0 Q307.15,528.0 308.95,525.7 L308.95,522.0 Z" fill="#fff" stroke="#585858" stroke-width="1.1"/>
<path d="M294.55,531.3 Q301.75,535.9 308.95,531.3 L308.95,534.7 Q301.75,539.9 294.55,534.7 Z" fill="#adadad" stroke="#606060" stroke-width="0.9"/>
<path d="M294.55,525.7 Q301.75,530.1 308.95,525.7" fill="none" stroke="#8c8c8c" stroke-width="1.4"/>
<ellipse cx="301.75" cy="522.1" rx="7.2" ry="4.3" fill="#fff" stroke="#5e5e5e" stroke-width="1.2"/>
<ellipse cx="301.75" cy="522.3" rx="4.1" ry="2.3" fill="#fff" stroke="#7e7e7e" stroke-width="1.6"/>
<path d="M324.05,573.5 L324.05,577.2 Q325.85,579.5 325.45,581.5 Q325.05,582 324.05,582.8 L324.05,586.2 Q331.25,591.4 338.45,586.2 L338.45,582.8 Q337.45,582 337.05,581.5 Q336.65,579.5 338.45,577.2 L338.45,573.5 Z" fill="#fff" stroke="#585858" stroke-width="1.1"/>
<path d="M324.05,582.8 Q331.25,587.4 338.45,582.8 L338.45,586.2 Q331.25,591.4 324.05,586.2 Z" fill="#adadad" stroke="#606060" stroke-width="0.9"/>
<path d="M324.05,577.2 Q331.25,581.6 338.45,577.2" fill="none" stroke="#8c8c8c" stroke-width="1.4"/>
<ellipse cx="331.25" cy="573.6" rx="7.2" ry="4.3" fill="#fff" stroke="#5e5e5e" stroke-width="1.2"/>
<ellipse cx="331.25" cy="573.8" rx="4.1" ry="2.3" fill="#fff" stroke="#7e7e7e" stroke-width="1.6"/>
<path d="M354.40000000000003,556.1 L354.40000000000003,559.8000000000001 Q356.20000000000005,562.1 355.8,564.1 Q355.40000000000003,564.6 354.40000000000003,565.4 L354.40000000000003,568.8000000000001 Q361.6,574.0 368.8,568.8000000000001 L368.8,565.4 Q367.8,564.6 367.40000000000003,564.1 Q367.0,562.1 368.8,559.8000000000001 L368.8,556.1 Z" fill="#fff" stroke="#585858" stroke-width="1.1"/>
<path d="M354.40000000000003,565.4 Q361.6,570.0 368.8,565.4 L368.8,568.8000000000001 Q361.6,574.0 354.40000000000003,568.8000000000001 Z" fill="#adadad" stroke="#606060" stroke-width="0.9"/>
<path d="M354.40000000000003,559.8000000000001 Q361.6,564.2 368.8,559.8000000000001" fill="none" stroke="#8c8c8c" stroke-width="1.4"/>
<ellipse cx="361.6" cy="556.2" rx="7.2" ry="4.3" fill="#fff" stroke="#5e5e5e" stroke-width="1.2"/>
<ellipse cx="361.6" cy="556.4" rx="4.1" ry="2.3" fill="#fff" stroke="#7e7e7e" stroke-width="1.6"/>
</g>
</svg></body></html>
